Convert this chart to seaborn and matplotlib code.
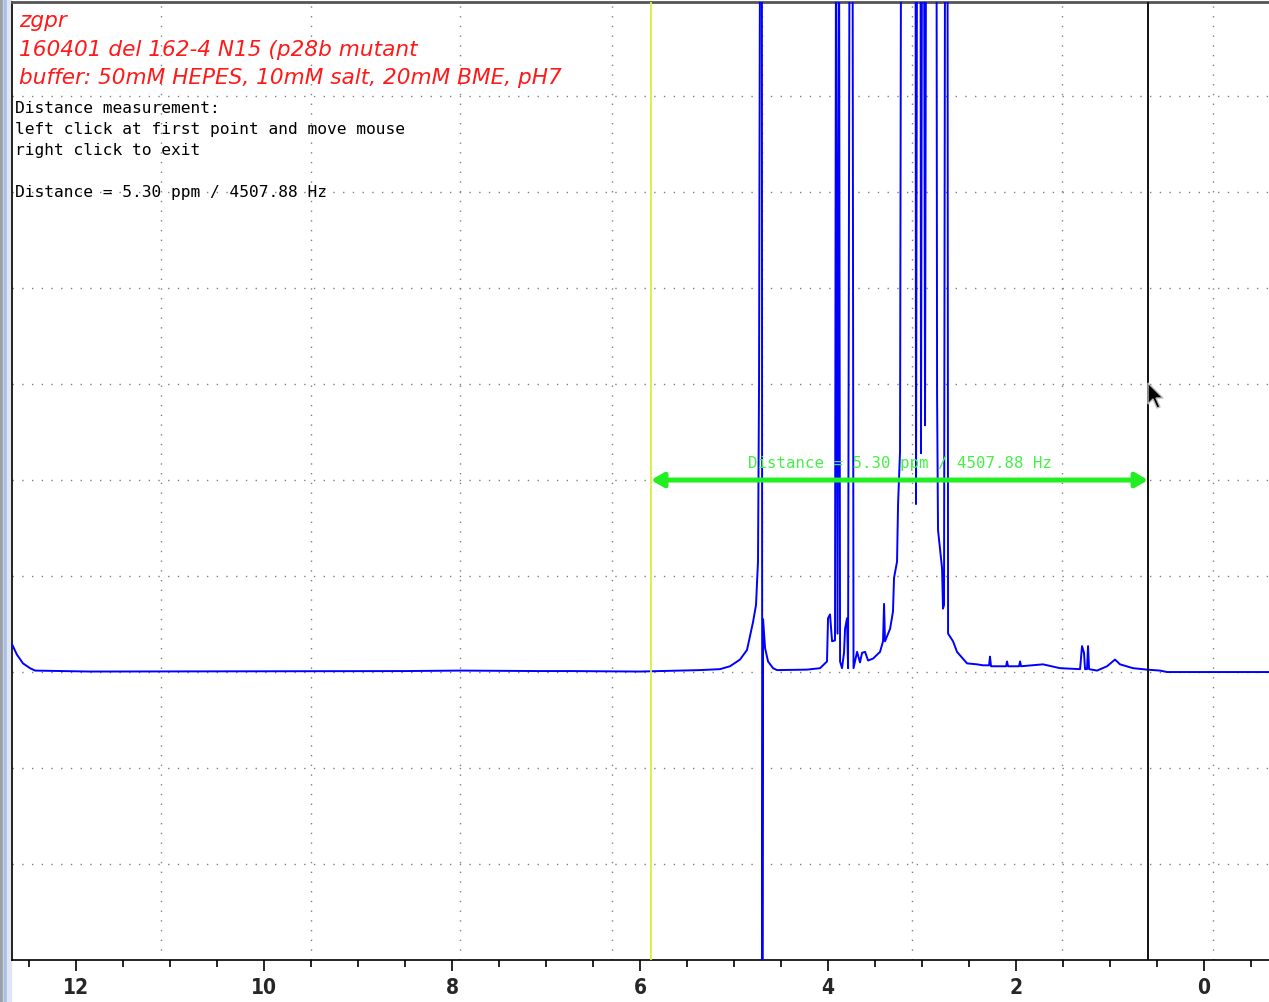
import numpy as np
import pandas as pd
import matplotlib
matplotlib.use("Agg")
import matplotlib.pyplot as plt
import seaborn as sns
from matplotlib.patches import Polygon, Rectangle

# spectrum (chemical shift in ppm, intensity in grid units)
ppm = [12.681, 12.628, 12.564, 12.489, 12.436, 11.851, 8.500, 7.915, 7.064, 6.745,
       6.000, 5.362, 5.149, 5.043, 4.936, 4.862, 4.798, 4.766, 4.755, 4.745,
       4.734, 4.723, 4.704, 4.699, 4.691, 4.670, 4.638, 4.585, 4.543, 4.223,
       4.085, 4.011, 4.000, 3.979, 3.957, 3.926, 3.915, 3.899, 3.883, 3.872,
       3.851, 3.830, 3.819, 3.798, 3.787, 3.771, 3.739, 3.729, 3.691, 3.660,
       3.638, 3.606, 3.574, 3.521, 3.447, 3.415, 3.404, 3.394, 3.340, 3.309,
       3.298, 3.266, 3.255, 3.234, 3.223, 3.069, 3.064, 3.053, 3.016, 3.011,
       3.000, 2.979, 2.968, 2.957, 2.846, 2.840, 2.830, 2.787, 2.777, 2.766,
       2.755, 2.729, 2.723, 2.670, 2.628, 2.521, 2.415, 2.351, 2.287, 2.277,
       2.266, 2.106, 2.096, 2.085, 1.968, 1.957, 1.947, 1.713, 1.532, 1.319,
       1.298, 1.277, 1.266, 1.245, 1.234, 1.223, 1.138, 1.032, 0.947, 0.894,
       0.755, 0.606, 0.468, 0.394, -0.691]
intensity = [0.29, 0.18, 0.09, 0.04, 0.015, 0.005, 0.01, 0.015, 0.01, 0.01,
             0.005, 0.02, 0.03, 0.06, 0.13, 0.23, 0.52, 0.70, 0.94, 1.15,
             3.0, 8.0, 8.0, -4.0, 0.55, 0.25, 0.11, 0.04, 0.02, 0.025,
             0.04, 0.11, 0.56, 0.60, 0.32, 0.33, 8.0, 0.4, 8.0, 0.11,
             0.04, 0.2, 0.45, 0.56, 0.04, 8.0, 8.0, 0.04, 0.21, 0.1,
             0.2, 0.21, 0.12, 0.14, 0.21, 0.32, 0.71, 0.32, 0.45, 0.63,
             0.98, 1.15, 1.75, 2.3, 8.0, 8.0, 1.75, 8.0, 8.0, 2.28,
             8.0, 8.0, 2.57, 8.0, 8.0, 2.9, 1.48, 1.08, 0.66, 0.7,
             8.0, 8.0, 0.4, 0.32, 0.21, 0.09, 0.08, 0.07, 0.07, 0.16,
             0.06, 0.06, 0.11, 0.06, 0.06, 0.11, 0.06, 0.08, 0.04, 0.03,
             0.27, 0.2, 0.03, 0.03, 0.27, 0.03, 0.015, 0.06, 0.13, 0.08,
             0.04, 0.025, 0.015, 0.0, 0.0]

# distance measurement
dist_start = 5.883
dist_end = 0.596
dist_label = "Distance = 5.30 ppm / 4507.88 Hz"
dist_level = 2.0

title_lines = ["zgpr",
               "160401 del 162-4 N15 (p28b mutant",
               "buffer: 50mM HEPES, 10mM salt, 20mM BME, pH7"]
info_lines = ["Distance measurement:",
              "left click at first point and move mouse",
              "right click to exit",
              "",
              dist_label]

# screen grid of the viewer
grid_ppm = [11.10, 9.50, 7.91, 6.30, 4.70, 3.11, 1.51, -0.09]
grid_int = [-2, -1, 0, 1, 2, 3, 4, 5, 6]

df = pd.DataFrame({"ppm": ppm, "intensity": intensity})

W, H = 1269, 1002
sns.set_theme(style="white")
fig = plt.figure(figsize=(W / 100, H / 100), dpi=100)
ax = fig.add_axes([12 / W, (H - 960) / H, (W - 12) / W, (960 - 2) / H])


def px(x, y):
    return x / W, 1 - y / H


# window chrome on the left edge
for x0, w, c in [(0, 3, "#9aa0a8"), (3, 1, "#d0d4da"), (4, 3, "#a9bfe6"), (7, 4, "#dfe6f2")]:
    fig.patches.append(Rectangle((x0 / W, 0), w / W, 1, transform=fig.transFigure,
                                 color=c, zorder=-5))

for g in grid_ppm:
    ax.axvline(g, color="#808080", lw=1.0, ls=(0, (1, 6)), zorder=0)
for g in grid_int:
    ax.axhline(g, color="#808080", lw=1.0, ls=(0, (1, 6)), zorder=0)

sns.lineplot(data=df, x="ppm", y="intensity", sort=False, estimator=None,
             color="#0000ff", lw=1.4, ax=ax, zorder=3)

ax.axvline(dist_start, color="#d8ef3a", lw=1.3, zorder=4)
ax.axvline(dist_end, color="#111111", lw=1.4, zorder=4)
ax.annotate("", xy=(dist_end, dist_level), xytext=(dist_start, dist_level),
            arrowprops=dict(arrowstyle="<|-|>,head_length=0.6,head_width=0.35",
                            color="#22ee22", lw=3.6, shrinkA=0, shrinkB=0), zorder=5)
ax.text((dist_start + dist_end) / 2, dist_level + 0.13, dist_label,
        ha="center", va="baseline", family="DejaVu Sans Mono", fontsize=11.3,
        color="#44f044", zorder=6)

ax.set_xlim(12.681, -0.691)
ax.set_ylim(-3.0, 6.98)
ax.set_xticks(np.arange(0, 13, 2))
ax.set_xticks(np.arange(-0.5, 12.75, 0.5), minor=True)
ax.set_xticklabels([str(v) for v in range(0, 13, 2)], family="DejaVu Sans",
                   fontstretch="condensed", fontweight="bold", fontsize=15)
ax.set_yticks([])
ax.tick_params(axis="x", which="major", direction="out", length=8, width=1.2,
               color="black", pad=5, bottom=True)
ax.tick_params(axis="x", which="minor", direction="out", length=5, width=1.2,
               color="black", bottom=True)
ax.set_xlabel("")
ax.set_ylabel("")
for s in ["left", "bottom"]:
    ax.spines[s].set_color("black")
    ax.spines[s].set_linewidth(1.2)
ax.spines["top"].set_color("#555555")
ax.spines["top"].set_linewidth(2)
ax.spines["right"].set_visible(False)

# header text
for txt, yb in zip(title_lines, [27, 56, 84]):
    fig.text(*px(19, yb), txt, color="#ff1a1a", fontsize=15.6, style="italic",
             family="DejaVu Sans", va="baseline", ha="left")
for txt, yb in zip(info_lines, [113, 134, 155, 176, 197]):
    fig.text(*px(15, yb), txt, color="black", fontsize=11.7,
             family="DejaVu Sans Mono", va="baseline", ha="left")

# mouse pointer
tip = (1148, 383)
shape = [(0, 0), (0, 21), (5, 16), (9, 25), (12, 24), (8, 15), (15, 15)]
pts = [px(tip[0] + dx, tip[1] + dy) for dx, dy in shape]
fig.patches.append(Polygon(pts, closed=True, transform=fig.transFigure,
                           facecolor="black", edgecolor="#bbbbbb", lw=1, zorder=10))

fig.savefig("out.png", dpi=100)
